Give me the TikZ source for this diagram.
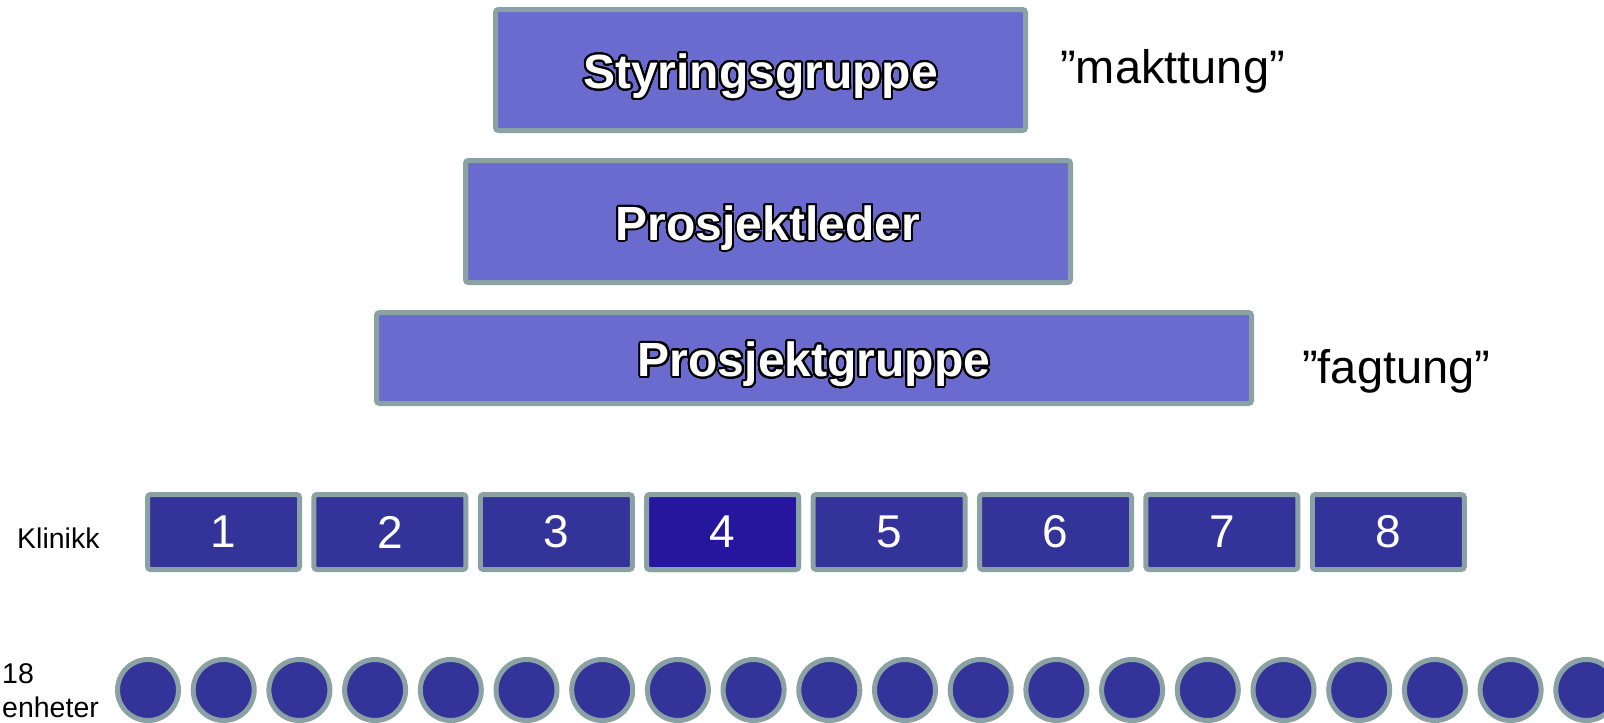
\documentclass[tikz,border=0pt]{standalone}
\usepackage{fontspec}
\setmainfont{Liberation Sans}
\usepackage{contour}
\contourlength{2pt}
\contournumber{32}
\definecolor{boxfill}{HTML}{6B6BCF}
\definecolor{edgegray}{HTML}{8AA2A4}
\definecolor{darkblue}{HTML}{333399}
\definecolor{deepblue}{HTML}{26169E}
\tikzset{
  bigbox/.style={draw=edgegray, line width=5pt, fill=boxfill, rounded corners=3pt,
    inner sep=0pt, text height=37pt, text depth=0pt,
    font=\fontsize{48}{57}\selectfont\bfseries},
  sqbox/.style={draw=edgegray, line width=5pt, fill=darkblue, rounded corners=3pt,
    minimum width=152pt, minimum height=75pt, inner sep=0pt, text=white,
    font=\fontsize{46}{55}\selectfont},
  unit/.style={circle, draw=edgegray, line width=5pt, fill=darkblue, minimum size=61pt, inner sep=0pt},
  bigtext/.style={anchor=base west, inner sep=0pt, font=\fontsize{47}{56}\selectfont},
  smalltext/.style={anchor=base west, inner sep=0pt, font=\fontsize{28.5}{34}\selectfont}
}
\newcommand{\outl}[1]{\contour{black}{\textcolor{white}{#1}}}
\begin{document}
\begin{tikzpicture}[x=1pt, y=-1pt]
\clip (0,0) rectangle (1604,723);
\fill[white] (0,0) rectangle (1604,723);
\node[bigbox, minimum width=530pt, minimum height=121pt] (styr) at (760.5,70) {\outl{Styringsgruppe}};
\node[bigbox, minimum width=605pt, minimum height=122pt] (leder) at (768,221.5) {\outl{Prosjektleder}};
\node[bigbox, minimum width=875pt, minimum height=91pt] (pgruppe) at (814,358) {\outl{Prosjektgruppe}};
\node[bigtext] (makt) at (1060,83) {”makttung”};
\node[bigtext] (fag) at (1302,383) {”fagtung”};
\node[smalltext] (klinikk) at (17,548) {Klinikk};
\foreach \i in {1,...,8} {
  \node[sqbox] (k\i) at ({223.5+166.4*(\i-1)},532) {\i};
}
\node[sqbox, fill=deepblue] (k4) at ({223.5+166.4*3},532) {4};
\node[smalltext] (enh) at (2,683) {18};
\node[smalltext] (enh2) at (2,717) {enheter};
\foreach \j in {1,...,20} {
  \node[unit] (u\j) at ({148+75.7*(\j-1)},690) {};
}
\end{tikzpicture}
\end{document}
